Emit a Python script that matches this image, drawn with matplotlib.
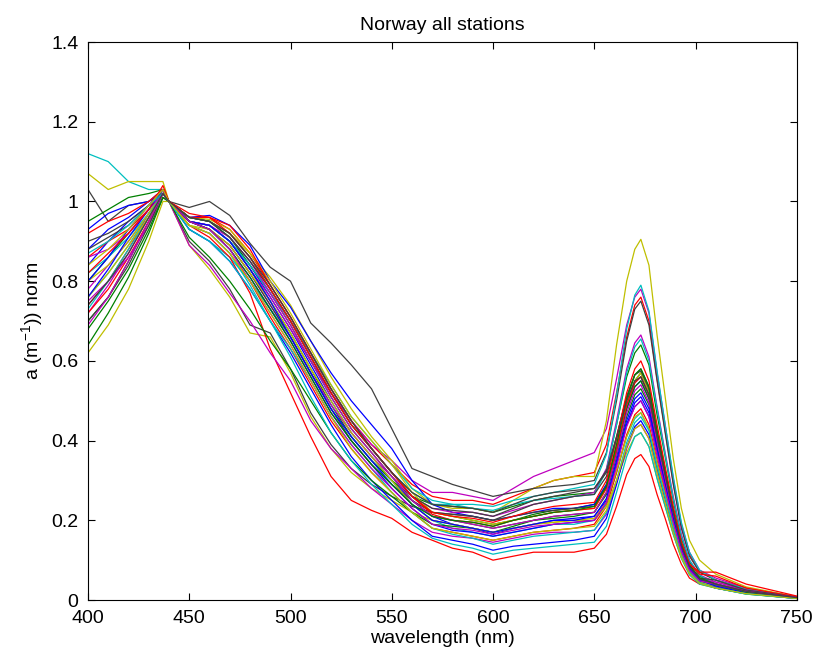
import matplotlib
matplotlib.use("Agg")
import matplotlib.pyplot as plt

plt.rcParams['font.family'] = ['Liberation Sans', 'DejaVu Sans']
plt.rcParams['mathtext.default'] = 'regular'

wavelength = [400, 410, 420, 430, 437, 440, 450, 460, 470, 480, 490, 500, 510, 520, 530,
              540, 550, 560, 570, 580, 590, 600, 610, 620, 630, 640, 650,
              656, 661, 666, 670, 673, 677, 681, 685, 689, 693, 697, 702, 710, 725, 750]

s01 = [0.88, 0.93, 0.96, 1.00, 1.03, 1.0, 0.95, 0.94, 0.90, 0.84, 0.76, 0.68, 0.59, 0.50, 0.42, 0.36, 0.30, 0.25, 0.21, 0.19, 0.18, 0.165, 0.18, 0.19, 0.20, 0.205, 0.21,
       0.25, 0.34, 0.44, 0.485, 0.50, 0.46, 0.365, 0.28, 0.195, 0.12, 0.075, 0.048, 0.03, 0.018, 0.005]
s02 = [0.80, 0.86, 0.92, 0.98, 1.02, 1.0, 0.96, 0.95, 0.92, 0.86, 0.78, 0.70, 0.61, 0.52, 0.44, 0.38, 0.32, 0.26, 0.22, 0.21, 0.20, 0.19, 0.20, 0.215, 0.225, 0.23, 0.24,
       0.29, 0.39, 0.50, 0.55, 0.57, 0.525, 0.415, 0.32, 0.22, 0.14, 0.085, 0.055, 0.035, 0.02, 0.006]
s03 = [0.74, 0.80, 0.88, 0.97, 1.02, 1.0, 0.96, 0.96, 0.93, 0.87, 0.79, 0.71, 0.62, 0.53, 0.45, 0.39, 0.34, 0.29, 0.26, 0.25, 0.25, 0.24, 0.26, 0.28, 0.30, 0.31, 0.32,
       0.39, 0.52, 0.66, 0.74, 0.76, 0.70, 0.555, 0.425, 0.295, 0.185, 0.115, 0.07, 0.05, 0.03, 0.008]
s04 = [1.12, 1.10, 1.05, 1.03, 1.03, 1.0, 0.93, 0.90, 0.86, 0.80, 0.73, 0.66, 0.57, 0.48, 0.41, 0.35, 0.30, 0.24, 0.20, 0.18, 0.17, 0.16, 0.17, 0.18, 0.19, 0.19, 0.20,
       0.24, 0.32, 0.41, 0.455, 0.47, 0.43, 0.34, 0.265, 0.18, 0.115, 0.07, 0.045, 0.03, 0.015, 0.004]
s05 = [0.78, 0.84, 0.90, 0.97, 1.02, 1.0, 0.95, 0.94, 0.90, 0.83, 0.76, 0.68, 0.60, 0.52, 0.45, 0.39, 0.35, 0.30, 0.27, 0.27, 0.26, 0.25, 0.28, 0.31, 0.33, 0.35, 0.37,
       0.43, 0.555, 0.69, 0.76, 0.78, 0.72, 0.57, 0.44, 0.305, 0.19, 0.12, 0.075, 0.055, 0.03, 0.008]
s06 = [1.07, 1.03, 1.05, 1.05, 1.05, 1.0, 0.96, 0.95, 0.92, 0.87, 0.81, 0.74, 0.65, 0.56, 0.48, 0.41, 0.35, 0.28, 0.24, 0.23, 0.23, 0.22, 0.25, 0.28, 0.30, 0.31, 0.31,
       0.45, 0.64, 0.80, 0.88, 0.905, 0.84, 0.665, 0.51, 0.355, 0.23, 0.15, 0.10, 0.065, 0.033, 0.008]
s07 = [1.03, 0.95, 0.99, 1.00, 1.02, 1.0, 0.985, 1.00, 0.965, 0.895, 0.835, 0.80, 0.695, 0.645, 0.59, 0.53, 0.43, 0.33, 0.31, 0.29, 0.275, 0.26, 0.27, 0.28, 0.285, 0.29, 0.30,
       0.37, 0.50, 0.65, 0.73, 0.75, 0.69, 0.55, 0.42, 0.29, 0.18, 0.11, 0.07, 0.05, 0.025, 0.007]
s08 = [0.84, 0.90, 0.95, 0.99, 1.03, 1.0, 0.96, 0.965, 0.94, 0.89, 0.80, 0.735, 0.65, 0.57, 0.50, 0.44, 0.38, 0.30, 0.24, 0.22, 0.21, 0.20, 0.21, 0.22, 0.23, 0.23, 0.24,
       0.29, 0.38, 0.48, 0.535, 0.55, 0.505, 0.40, 0.31, 0.215, 0.135, 0.083, 0.052, 0.035, 0.02, 0.005]
s09 = [0.70, 0.76, 0.85, 0.95, 1.02, 1.0, 0.95, 0.94, 0.90, 0.83, 0.75, 0.67, 0.58, 0.49, 0.41, 0.35, 0.30, 0.26, 0.24, 0.235, 0.23, 0.22, 0.235, 0.25, 0.26, 0.265, 0.27,
       0.325, 0.44, 0.56, 0.62, 0.64, 0.59, 0.465, 0.36, 0.25, 0.155, 0.096, 0.06, 0.04, 0.022, 0.006]
s10 = [0.86, 0.90, 0.93, 0.98, 1.03, 1.0, 0.94, 0.92, 0.87, 0.80, 0.71, 0.63, 0.54, 0.45, 0.38, 0.32, 0.27, 0.22, 0.18, 0.17, 0.16, 0.15, 0.16, 0.17, 0.175, 0.18, 0.19,
       0.235, 0.32, 0.415, 0.465, 0.48, 0.44, 0.35, 0.27, 0.185, 0.118, 0.072, 0.046, 0.04, 0.02, 0.006]
s11 = [0.76, 0.82, 0.89, 0.97, 1.02, 1.0, 0.96, 0.95, 0.91, 0.85, 0.78, 0.70, 0.62, 0.54, 0.46, 0.40, 0.34, 0.28, 0.25, 0.24, 0.24, 0.235, 0.25, 0.26, 0.27, 0.28, 0.29,
       0.365, 0.515, 0.68, 0.765, 0.79, 0.725, 0.575, 0.44, 0.31, 0.195, 0.12, 0.075, 0.05, 0.028, 0.008]
s12 = [0.72, 0.79, 0.87, 0.96, 1.02, 1.0, 0.95, 0.93, 0.89, 0.82, 0.74, 0.66, 0.57, 0.49, 0.42, 0.36, 0.31, 0.26, 0.23, 0.22, 0.22, 0.21, 0.225, 0.24, 0.25, 0.26, 0.27,
       0.33, 0.45, 0.58, 0.645, 0.665, 0.61, 0.485, 0.37, 0.26, 0.165, 0.10, 0.063, 0.045, 0.025, 0.007]
s13 = [0.62, 0.69, 0.78, 0.90, 1.00, 1.0, 0.89, 0.83, 0.76, 0.67, 0.66, 0.57, 0.46, 0.38, 0.32, 0.28, 0.25, 0.22, 0.20, 0.19, 0.18, 0.17, 0.18, 0.19, 0.195, 0.20, 0.20,
       0.235, 0.30, 0.37, 0.41, 0.42, 0.385, 0.305, 0.235, 0.165, 0.105, 0.065, 0.04, 0.03, 0.015, 0.004]
s14 = [0.90, 0.92, 0.95, 0.99, 1.02, 1.0, 0.90, 0.85, 0.78, 0.69, 0.67, 0.58, 0.47, 0.39, 0.33, 0.29, 0.26, 0.235, 0.22, 0.215, 0.21, 0.20, 0.21, 0.22, 0.225, 0.23, 0.235,
       0.285, 0.38, 0.49, 0.545, 0.56, 0.515, 0.41, 0.315, 0.22, 0.14, 0.085, 0.053, 0.04, 0.02, 0.006]
s15 = [0.93, 0.97, 0.99, 1.00, 1.02, 1.0, 0.95, 0.93, 0.88, 0.81, 0.73, 0.65, 0.56, 0.47, 0.40, 0.34, 0.28, 0.23, 0.19, 0.175, 0.17, 0.16, 0.17, 0.18, 0.19, 0.195, 0.20,
       0.245, 0.34, 0.44, 0.495, 0.51, 0.47, 0.37, 0.285, 0.20, 0.125, 0.077, 0.048, 0.035, 0.018, 0.005]
s16 = [0.95, 0.98, 1.01, 1.02, 1.03, 1.0, 0.96, 0.95, 0.91, 0.84, 0.77, 0.69, 0.60, 0.51, 0.43, 0.37, 0.31, 0.25, 0.21, 0.20, 0.19, 0.18, 0.19, 0.20, 0.205, 0.21, 0.22,
       0.27, 0.37, 0.48, 0.535, 0.55, 0.505, 0.40, 0.31, 0.215, 0.135, 0.083, 0.052, 0.035, 0.02, 0.005]
s17 = [0.72, 0.78, 0.86, 0.95, 1.02, 1.0, 0.94, 0.91, 0.86, 0.77, 0.63, 0.52, 0.41, 0.31, 0.25, 0.225, 0.205, 0.17, 0.15, 0.13, 0.12, 0.10, 0.11, 0.12, 0.12, 0.12, 0.13,
       0.165, 0.235, 0.315, 0.355, 0.365, 0.335, 0.265, 0.205, 0.14, 0.09, 0.055, 0.04, 0.035, 0.018, 0.005]
s18 = [0.82, 0.86, 0.91, 0.97, 1.02, 1.0, 0.95, 0.94, 0.90, 0.84, 0.77, 0.70, 0.62, 0.53, 0.45, 0.38, 0.32, 0.27, 0.24, 0.24, 0.23, 0.225, 0.24, 0.25, 0.255, 0.26, 0.265,
       0.325, 0.44, 0.57, 0.635, 0.655, 0.60, 0.48, 0.365, 0.255, 0.16, 0.10, 0.062, 0.04, 0.022, 0.006]
s19 = [0.75, 0.80, 0.86, 0.94, 1.01, 1.0, 0.89, 0.84, 0.77, 0.70, 0.62, 0.55, 0.45, 0.38, 0.33, 0.28, 0.24, 0.20, 0.17, 0.16, 0.155, 0.145, 0.155, 0.165, 0.17, 0.17, 0.175,
       0.215, 0.295, 0.38, 0.43, 0.44, 0.405, 0.32, 0.245, 0.17, 0.108, 0.066, 0.042, 0.035, 0.02, 0.005]
s20 = [0.80, 0.84, 0.90, 0.97, 1.03, 1.0, 0.96, 0.955, 0.93, 0.87, 0.80, 0.72, 0.63, 0.54, 0.46, 0.40, 0.34, 0.27, 0.22, 0.21, 0.20, 0.19, 0.20, 0.21, 0.22, 0.225, 0.23,
       0.28, 0.385, 0.495, 0.55, 0.57, 0.525, 0.415, 0.32, 0.22, 0.14, 0.086, 0.054, 0.04, 0.02, 0.005]
s21 = [0.70, 0.76, 0.84, 0.94, 1.02, 1.0, 0.95, 0.93, 0.89, 0.82, 0.74, 0.66, 0.57, 0.48, 0.40, 0.34, 0.29, 0.25, 0.22, 0.215, 0.21, 0.20, 0.22, 0.24, 0.25, 0.26, 0.265,
       0.31, 0.41, 0.51, 0.565, 0.58, 0.535, 0.425, 0.325, 0.225, 0.142, 0.087, 0.055, 0.04, 0.022, 0.006]
s22 = [0.80, 0.86, 0.93, 0.99, 1.03, 1.0, 0.93, 0.90, 0.85, 0.78, 0.70, 0.62, 0.53, 0.44, 0.36, 0.30, 0.25, 0.20, 0.16, 0.15, 0.14, 0.125, 0.135, 0.14, 0.145, 0.15, 0.16,
       0.205, 0.29, 0.385, 0.435, 0.45, 0.415, 0.33, 0.25, 0.175, 0.11, 0.068, 0.043, 0.03, 0.016, 0.004]
s23 = [0.68, 0.75, 0.83, 0.93, 1.01, 1.0, 0.91, 0.86, 0.80, 0.73, 0.65, 0.58, 0.50, 0.42, 0.35, 0.30, 0.26, 0.22, 0.19, 0.185, 0.18, 0.17, 0.185, 0.20, 0.21, 0.215, 0.22,
       0.265, 0.36, 0.46, 0.515, 0.53, 0.49, 0.385, 0.295, 0.205, 0.13, 0.08, 0.05, 0.035, 0.02, 0.005]
s24 = [0.92, 0.95, 0.97, 1.00, 1.03, 1.0, 0.96, 0.96, 0.94, 0.88, 0.79, 0.71, 0.62, 0.53, 0.45, 0.38, 0.32, 0.26, 0.215, 0.20, 0.195, 0.185, 0.20, 0.21, 0.22, 0.225, 0.23,
       0.28, 0.38, 0.49, 0.545, 0.56, 0.515, 0.41, 0.315, 0.22, 0.14, 0.09, 0.065, 0.06, 0.03, 0.008]
s25 = [0.73, 0.80, 0.88, 0.96, 1.02, 1.0, 0.94, 0.92, 0.87, 0.79, 0.70, 0.61, 0.51, 0.42, 0.35, 0.29, 0.24, 0.19, 0.155, 0.14, 0.13, 0.115, 0.125, 0.13, 0.135, 0.14, 0.145,
       0.185, 0.27, 0.36, 0.41, 0.42, 0.385, 0.305, 0.235, 0.165, 0.105, 0.063, 0.04, 0.03, 0.015, 0.004]
s26 = [0.86, 0.88, 0.92, 0.98, 1.02, 1.0, 0.95, 0.94, 0.91, 0.85, 0.77, 0.69, 0.60, 0.51, 0.43, 0.37, 0.31, 0.25, 0.21, 0.20, 0.19, 0.18, 0.19, 0.20, 0.21, 0.215, 0.22,
       0.27, 0.365, 0.47, 0.525, 0.54, 0.495, 0.395, 0.30, 0.21, 0.13, 0.08, 0.052, 0.045, 0.025, 0.006]
s27 = [0.76, 0.82, 0.89, 0.96, 1.02, 1.0, 0.94, 0.93, 0.89, 0.82, 0.75, 0.67, 0.58, 0.50, 0.42, 0.36, 0.30, 0.24, 0.20, 0.19, 0.18, 0.17, 0.18, 0.19, 0.195, 0.20, 0.205,
       0.245, 0.325, 0.41, 0.46, 0.47, 0.43, 0.345, 0.265, 0.185, 0.115, 0.07, 0.045, 0.035, 0.018, 0.005]
s28 = [0.88, 0.91, 0.94, 0.99, 1.02, 1.0, 0.96, 0.95, 0.91, 0.85, 0.78, 0.70, 0.61, 0.52, 0.44, 0.38, 0.32, 0.26, 0.23, 0.225, 0.22, 0.21, 0.23, 0.25, 0.26, 0.27, 0.28,
       0.325, 0.41, 0.51, 0.565, 0.575, 0.53, 0.42, 0.32, 0.225, 0.14, 0.087, 0.055, 0.05, 0.025, 0.007]
s29 = [0.76, 0.83, 0.91, 0.98, 1.03, 1.0, 0.95, 0.94, 0.90, 0.83, 0.75, 0.66, 0.57, 0.48, 0.41, 0.35, 0.29, 0.24, 0.20, 0.19, 0.18, 0.17, 0.18, 0.19, 0.20, 0.20, 0.21,
       0.255, 0.35, 0.45, 0.505, 0.52, 0.48, 0.38, 0.29, 0.205, 0.127, 0.078, 0.05, 0.035, 0.018, 0.005]
s30 = [0.64, 0.72, 0.81, 0.92, 1.01, 1.0, 0.95, 0.93, 0.88, 0.81, 0.73, 0.65, 0.56, 0.47, 0.40, 0.34, 0.29, 0.24, 0.21, 0.20, 0.195, 0.185, 0.20, 0.21, 0.22, 0.225, 0.235,
       0.285, 0.39, 0.505, 0.565, 0.58, 0.535, 0.425, 0.325, 0.225, 0.142, 0.087, 0.055, 0.04, 0.02, 0.005]
s31 = [0.82, 0.87, 0.92, 0.98, 1.04, 1.0, 0.97, 0.96, 0.92, 0.86, 0.78, 0.70, 0.61, 0.52, 0.44, 0.38, 0.32, 0.26, 0.22, 0.21, 0.205, 0.195, 0.21, 0.225, 0.235, 0.24, 0.245,
       0.30, 0.405, 0.52, 0.58, 0.60, 0.55, 0.44, 0.335, 0.235, 0.147, 0.09, 0.07, 0.07, 0.04, 0.01]
s32 = [0.87, 0.90, 0.94, 0.99, 1.02, 1.0, 0.93, 0.90, 0.85, 0.78, 0.70, 0.63, 0.55, 0.46, 0.39, 0.33, 0.27, 0.22, 0.18, 0.165, 0.155, 0.14, 0.15, 0.16, 0.165, 0.17, 0.175,
       0.22, 0.30, 0.395, 0.445, 0.46, 0.425, 0.335, 0.26, 0.18, 0.113, 0.07, 0.044, 0.03, 0.016, 0.004]
s33 = [0.69, 0.76, 0.85, 0.95, 1.02, 1.0, 0.95, 0.93, 0.88, 0.80, 0.72, 0.64, 0.55, 0.46, 0.39, 0.33, 0.28, 0.23, 0.19, 0.18, 0.175, 0.165, 0.175, 0.185, 0.19, 0.195, 0.20,
       0.245, 0.335, 0.435, 0.485, 0.50, 0.46, 0.365, 0.28, 0.195, 0.123, 0.075, 0.048, 0.04, 0.022, 0.006]
s34 = [0.84, 0.88, 0.93, 0.99, 1.03, 1.0, 0.94, 0.92, 0.87, 0.80, 0.72, 0.64, 0.55, 0.46, 0.38, 0.32, 0.27, 0.22, 0.18, 0.17, 0.16, 0.15, 0.16, 0.17, 0.175, 0.18, 0.185,
       0.225, 0.30, 0.385, 0.43, 0.44, 0.405, 0.32, 0.245, 0.17, 0.108, 0.066, 0.042, 0.03, 0.016, 0.004]
s35 = [0.74, 0.80, 0.87, 0.96, 1.02, 1.0, 0.96, 0.95, 0.92, 0.86, 0.79, 0.71, 0.62, 0.53, 0.45, 0.38, 0.32, 0.27, 0.24, 0.235, 0.23, 0.22, 0.24, 0.26, 0.27, 0.275, 0.28,
       0.32, 0.405, 0.50, 0.55, 0.56, 0.515, 0.41, 0.315, 0.22, 0.137, 0.085, 0.053, 0.04, 0.022, 0.006]

spectra = [s01, s02, s03, s04, s05, s06, s07, s08, s09, s10, s11, s12, s13, s14, s15, s16, s17,
           s18, s19, s20, s21, s22, s23, s24, s25, s26, s27, s28, s29, s30, s31, s32, s33, s34, s35]

line_colors = [(0, 0, 1), (0, 0.5, 0), (1, 0, 0), (0, 0.75, 0.75),
               (0.75, 0, 0.75), (0.75, 0.75, 0), (0.25, 0.25, 0.25)]

x_ticks = [400, 450, 500, 550, 600, 650, 700, 750]
y_ticks = [0, 0.2, 0.4, 0.6, 0.8, 1.0, 1.2, 1.4]
y_tick_labels = ['0', '0.2', '0.4', '0.6', '0.8', '1', '1.2', '1.4']

fig = plt.figure(figsize=(8.3, 6.58), dpi=100)
ax = fig.add_axes([0.106, 0.0881, 0.854, 0.848])

for i, s in enumerate(spectra):
    ax.plot(wavelength, s, color=line_colors[i % 7], lw=0.9)

ax.set_xlim(400, 750)
ax.set_ylim(0, 1.4)
ax.set_xticks(x_ticks)
ax.set_xticklabels([str(t) for t in x_ticks])
ax.set_yticks(y_ticks)
ax.set_yticklabels(y_tick_labels)
ax.tick_params(direction='in', length=5, width=0.8, labelsize=14,
               top=True, right=True, pad=7)
for sp in ax.spines.values():
    sp.set_linewidth(0.8)

ax.set_title('Norway all stations', fontsize=14, pad=9)
ax.set_xlabel('wavelength (nm)', fontsize=14, labelpad=2)
ax.set_ylabel('a (m$^{-1}$)) norm', fontsize=14, labelpad=4)

fig.savefig('out.png', dpi=100)
